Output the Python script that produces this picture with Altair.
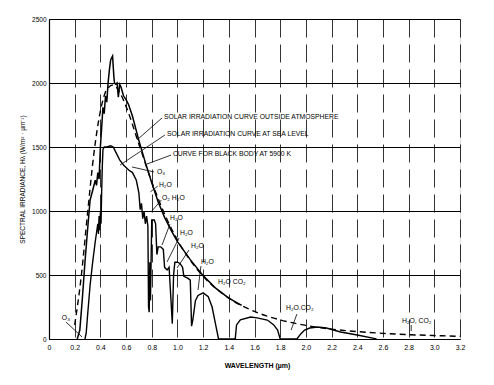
import altair as alt
import pandas as pd

# Solar irradiation curve outside atmosphere (solid)
outer_wl = [0.22, 0.24, 0.26, 0.28, 0.30, 0.32, 0.34, 0.36, 0.37, 0.38, 0.39, 0.40, 0.41, 0.42, 0.43,
            0.44, 0.45, 0.46, 0.47, 0.48, 0.49, 0.495, 0.505, 0.51, 0.52, 0.53, 0.54, 0.55, 0.56, 0.58,
            0.60, 0.62, 0.65, 0.70, 0.75, 0.80, 0.85, 0.90, 0.95, 1.00, 1.10, 1.20, 1.30, 1.40, 1.50]
outer_E = [0, 70, 320, 600, 850, 1086, 1160, 1240, 1200, 1300, 1250, 1500, 1650, 1810, 1760,
           1900, 1850, 2000, 2100, 2180, 2200, 2210, 2050, 2000, 1990, 2000, 1890, 1990, 1970, 1900,
           1870, 1830, 1740, 1550, 1380, 1220, 1070, 950, 850, 760, 620, 495, 395, 320, 262]

# Solar irradiation curve at sea level (solid, with absorption bands)
sea_wl = [0.28, 0.29, 0.30, 0.32, 0.34, 0.36, 0.37, 0.38, 0.385, 0.39, 0.395, 0.40, 0.405, 0.41, 0.415,
          0.42, 0.43, 0.45, 0.48, 0.50, 0.52, 0.55, 0.58, 0.62, 0.65, 0.68, 0.70, 0.71, 0.72, 0.73,
          0.74, 0.75, 0.76, 0.77, 0.775, 0.78, 0.785, 0.79, 0.80, 0.82, 0.83, 0.84, 0.85, 0.87, 0.89,
          0.90, 0.92, 0.935, 0.95, 0.96, 0.97, 0.98, 1.00, 1.02, 1.04, 1.05, 1.08, 1.10, 1.11, 1.12,
          1.14, 1.16, 1.20, 1.24, 1.27, 1.29, 1.32, 1.45, 1.46, 1.49, 1.57, 1.62, 1.70, 1.75, 1.78,
          1.80, 1.93, 1.96, 1.99, 2.03, 2.09, 2.16, 2.27, 2.40, 2.53, 2.55]
sea_E = [0, 50, 180, 420, 600, 760, 830, 900, 820, 960, 850, 990, 900, 1150, 1350,
         1480, 1500, 1500, 1510, 1500, 1460, 1400, 1360, 1320, 1300, 1240, 1140, 1010, 1060, 940,
         1000, 900, 960, 880, 250, 210, 600, 300, 930, 930, 900, 660, 720, 720, 700,
         560, 540, 560, 300, 120, 500, 600, 600, 590, 560, 490, 475, 460, 100, 150,
         300, 340, 360, 330, 250, 150, 0, 0, 110, 150, 172, 165, 148, 110, 70,
         0, 0, 40, 70, 86, 94, 86, 55, 31, 5, 0]

# Curve for black body at 5900 K (dashed)
bb_wl = [0.20, 0.25, 0.30, 0.35, 0.40, 0.45, 0.50, 0.55, 0.60, 0.70, 0.80, 0.90, 1.0, 1.2, 1.4, 1.6,
         1.8, 2.0, 2.2, 2.4, 2.6, 2.8, 3.0, 3.2]
bb_E = [110, 480, 981, 1452, 1780, 1949, 1985, 1928, 1817, 1522, 1228, 976, 773, 490, 319, 215,
        149, 106, 77, 58, 44, 34, 27, 21]

x_ticks = [0, 0.2, 0.4, 0.6, 0.8, 1.0, 1.2, 1.4, 1.6, 1.8, 2.0, 2.2, 2.4, 2.6, 2.8, 3.0, 3.2]
y_ticks = [0, 500, 1000, 1500, 2000, 2500]

# annotation labels (anchored at wavelength / irradiance)
ann_text = ["SOLAR IRRADIATION CURVE OUTSIDE ATMOSPHERE", "SOLAR IRRADIATION CURVE AT SEA LEVEL",
            "CURVE FOR BLACK BODY AT 5900 K", "O₃", "H₂O", "O₂ H₂O", "H₂O", "H₂O", "H₂O", "H₂O",
            "H₂O  CO₂", "H₂O.CO₂", "H₂O, CO₂", "O₃"]
ann_wl = [0.895, 0.919, 0.965, 0.841, 0.856, 0.88, 0.942, 1.02, 1.106, 1.183, 1.316, 1.845, 2.748, 0.10]
ann_E = [1734, 1602, 1445, 1305, 1203, 1102, 945, 828, 727, 602, 445, 242, 141, 164]

# leader lines
ptr_wl = [0.88, 0.903, 0.95, 0.817, 0.847, 0.875, 0.942, 1.012, 1.09, 1.183, 1.93, 2.82, 0.132]
ptr_E = [1727, 1594, 1437, 1305, 1195, 1086, 898, 789, 695, 570, 195, 109, 133]
ptr_wl2 = [0.685, 0.553, 0.763, 0.646, 0.79, 0.794, 0.88, 0.919, 0.997, 1.16, 1.885, 2.82, 0.257]
ptr_E2 = [1555, 1359, 1367, 1344, 1150, 992, 734, 602, 555, 383, 70, 62, 16]

df_outer = pd.DataFrame({"wl": outer_wl, "E": outer_E})
df_sea = pd.DataFrame({"wl": sea_wl, "E": sea_E})
df_bb = pd.DataFrame({"wl": bb_wl, "E": bb_E})
df_ann = pd.DataFrame({"wl": ann_wl, "E": ann_E, "label": ann_text})
df_ptr = pd.DataFrame({"wl": ptr_wl, "E": ptr_E, "wl2": ptr_wl2, "E2": ptr_E2})

FONT = "Liberation Sans"

x_enc = alt.X("wl:Q", scale=alt.Scale(domain=[0, 3.2], nice=False, zero=False),
              axis=alt.Axis(values=x_ticks, labelExpr="datum.value == 0 ? '0' : format(datum.value, '.1f')",
                            title="WAVELENGTH (µm)", titleX=208, titleY=22, titleFontSize=7,
                            titleFont=FONT, titleFontWeight="bold", labelFont=FONT, labelFontSize=7,
                            labelColor="black", titleColor="black", ticks=False, labelPadding=4,
                            grid=True, gridDash=[18, 7], gridColor="black", gridWidth=0.8,
                            gridOpacity=1, domainColor="black", domainWidth=1.2, labelFlush=False))
y_enc = alt.Y("E:Q", scale=alt.Scale(domain=[0, 2500], nice=False),
              axis=alt.Axis(values=y_ticks, format="d", title="SPECTRAL IRRADIANCE, Hλ (W/m² · µm⁻¹)",
                            titleX=-27, titleY=160, titleAngle=-90, titleAlign="center",
                            titleBaseline="middle", titleFontSize=6.5, titleFont=FONT,
                            titleFontWeight="normal", titleColor="black",
                            labelFont=FONT, labelFontSize=6.5, labelColor="black", ticks=False,
                            labelPadding=3, grid=True, gridColor="black", gridWidth=1.2, gridOpacity=1,
                            domainColor="black", domainWidth=1.2))

outer = alt.Chart(df_outer).mark_line(color="black", strokeWidth=1.5).encode(x=x_enc, y=y_enc)
sea = alt.Chart(df_sea).mark_line(color="black", strokeWidth=1.4).encode(x=x_enc, y=y_enc)
bb = alt.Chart(df_bb).mark_line(color="black", strokeWidth=1.4, strokeDash=[6, 4],
                                interpolate="monotone").encode(x=x_enc, y=y_enc)
ptr = alt.Chart(df_ptr).mark_rule(color="black", strokeWidth=0.8).encode(
    x=x_enc, y=y_enc, x2="wl2:Q", y2="E2:Q")
ann = alt.Chart(df_ann).mark_text(align="left", baseline="middle", font=FONT, fontSize=6.8,
                                  color="black").encode(x=x_enc, y=y_enc, text="label:N")

chart = alt.layer(bb, outer, sea, ptr, ann).properties(
    width=411, height=320,
    padding={"left": 41, "top": 11, "right": 26, "bottom": 34},
    autosize=alt.AutoSizeParams(type="none"),
).configure_view(stroke=None).configure(background="white")

chart.save("out.html", embed_options={"renderer": "svg", "actions": False})
